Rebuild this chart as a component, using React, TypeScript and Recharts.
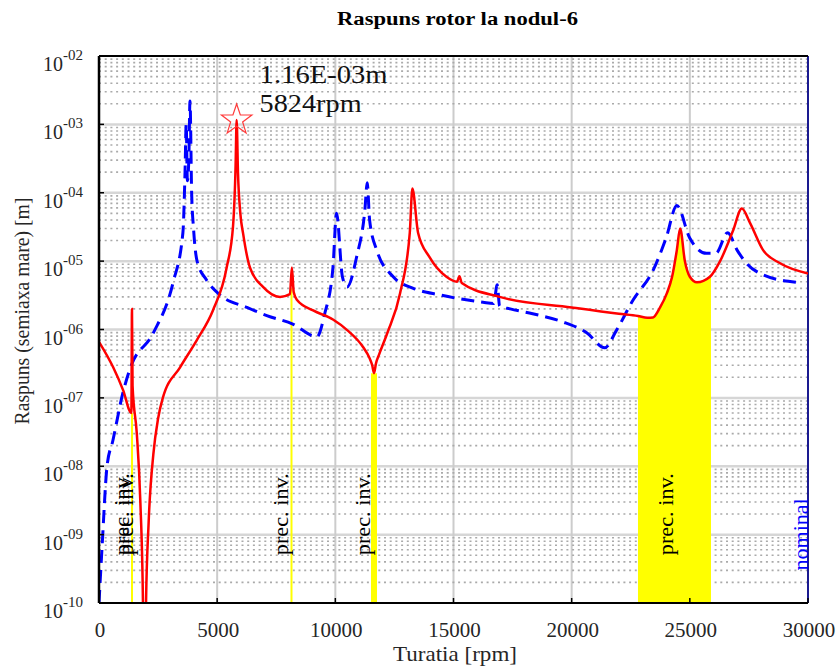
import React from 'react';
import { Area, ComposedChart, Line, ReferenceLine, Scatter, XAxis, YAxis } from 'recharts';

const SERIF = '"Liberation Serif", "Times New Roman", serif';

// axes
const rpmTicks = [0, 5000, 10000, 15000, 20000, 25000, 30000];
const decadeTicks = [1e-10, 1e-9, 1e-8, 1e-7, 1e-6, 1e-5, 1e-4, 1e-3, 1e-2];

// raspuns (solid red)
const redRpm = [
  0, 600, 1020, 1370, 1395, 1420, 1600, 1750, 1860, 1920, 1990, 2100, 2300, 2500, 2700, 3430, 4140, 4820,
  5400, 5670, 5780, 5824, 5880, 5980, 6100, 6390, 6940, 7660, 8080, 8160, 8240, 8380, 9060, 9900, 10500,
  11180, 11450, 11560, 11636, 11720, 11850, 12200, 12740, 13150, 13260, 13500, 13980, 14700, 15150, 15250,
  15350, 16950, 20000, 22000, 22806, 23200, 23440, 23740, 24030, 24250, 24450, 24590, 24790, 25000, 25300,
  25850, 26280, 26830, 27200, 27550, 28100, 28820, 30000,
];
const redAmp = [
  6.6e-7, 2.8e-7, 1.3e-7, 6e-8, 2e-6, 1.5e-7, 3e-8, 3e-9, 1e-10, 1e-12, 1e-10, 1.5e-9, 1.5e-8, 5e-8, 1e-7,
  2.8e-7, 7e-7, 1.9e-6, 8e-6, 3.2e-5, 2.5e-4, 1.16e-3, 2e-4, 5e-5, 2.5e-5, 8e-6, 4.2e-6, 3e-6, 3.3e-6, 8.1e-6,
  3.5e-6, 2.7e-6, 1.9e-6, 1.4e-6, 9.8e-7, 5.5e-7, 3.8e-7, 3e-7, 2.3e-7, 3.2e-7, 4.3e-7, 8.9e-7, 3.4e-6,
  2.6e-5, 1.15e-4, 2.6e-5, 1.15e-5, 5.9e-6, 5e-6, 6e-6, 4.8e-6, 3e-6, 2.1e-6, 1.7e-6, 1.58e-6, 1.48e-6,
  1.5e-6, 2.1e-6, 3.4e-6, 5.9e-6, 1.45e-5, 3e-5, 1e-5, 5.9e-6, 4.9e-6, 5.9e-6, 1e-5, 2.8e-5, 5.9e-5, 3.6e-5,
  1.45e-5, 9.3e-6, 6.6e-6,
];

// raspuns (dashed blue)
const blueRpm = [
  0, 130, 340, 590, 1015, 1300, 2300, 3130, 3550, 3640, 3690, 3740, 3800, 3850, 3920, 4000, 4150, 4550, 5120,
  6260, 7100, 8200, 9220, 9550, 9900, 10050, 10300, 10500, 10900, 11250, 11350, 11450, 11750, 12450, 13300,
  14430, 16250, 16700, 16850, 16950, 17400, 18350, 19600, 20650, 21400, 21900, 22600, 23450, 24000, 24450,
  24990, 25700, 26100, 26600, 27000, 27400, 28100, 29500,
];
const blueAmp = [
  1e-10, 6.6e-10, 1e-8, 2.4e-8, 1.2e-7, 2.6e-7, 8.9e-7, 4.8e-6, 2.6e-5, 2e-4, 1e-3, 1.5e-4, 3e-4, 2.2e-3, 1e-4,
  3e-5, 1e-5, 5.3e-6, 3.2e-6, 2.1e-6, 1.6e-6, 1.2e-6, 7.8e-7, 1.7e-6, 8.1e-6, 5e-5, 5.9e-6, 4.2e-6, 1.15e-5,
  5.6e-5, 1.4e-4, 4e-5, 1.45e-5, 5.9e-6, 4e-6, 3.2e-6, 2.5e-6, 2.4e-6, 4.5e-6, 2.2e-6, 2e-6, 1.7e-6, 1.3e-6,
  8.9e-7, 5.4e-7, 9.8e-7, 2.7e-6, 7.4e-6, 2.2e-5, 6.5e-5, 2.2e-5, 1.3e-5, 1.3e-5, 2.6e-5, 1.45e-5, 9.3e-6,
  6.3e-6, 4.9e-6,
];

// prec. inv. band under the red curve
const bandRpm = [22806, 23200, 23440, 23740, 24030, 24250, 24450, 24590, 24790, 25000, 25300, 25850, 25895];
const bandAmp = [1.58e-6, 1.48e-6, 1.5e-6, 2.1e-6, 3.4e-6, 5.9e-6, 1.45e-5, 3e-5, 1e-5, 5.9e-6, 4.9e-6, 5.9e-6, 5.95e-6];

// narrow prec. inv. intervals
const precLineRpm = [1396, 8145, 11636];
const precLineTop = [6e-8, 4e-6, 2.3e-7];
const PREC_LINE_WIDTHS = [2, 2, 6];

// text annotations (data coordinates)
const precLabelRpm = [1270, 1440, 7997, 11480, 24290];
const precLabelAmp = [5e-10, 5e-10, 5e-10, 5e-10, 5e-10];
const nominalRpm = [30000];
const nominalAmp = [3e-10];
const peakRpm = [5824];
const peakAmp = [1.16e-3];
const peakText = ['1.16E-03m', '5824rpm'];

const zip = (xs: number[], ys: number[]) => xs.map((x, i) => ({ x, y: ys[i] }));
const redData = zip(redRpm, redAmp);
const blueData = zip(blueRpm, blueAmp);
const bandData = zip(bandRpm, bandAmp);
const precLabelData = zip(precLabelRpm, precLabelAmp);
const nominalData = zip(nominalRpm, nominalAmp);
const peakData = zip(peakRpm, peakAmp);

const minorGrid: number[] = [];
for (let e = -10; e < -2; e++) for (let k = 2; k <= 9; k++) minorGrid.push(k * Math.pow(10, e));
const majorY = decadeTicks.slice(1, -1);
const majorX = rpmTicks.slice(1, -1);

function YTick({ y, payload }: any) {
  const exp = Math.round(Math.log10(payload.value));
  const sup = (exp < 0 ? '-' : '') + String(Math.abs(exp)).padStart(2, '0');
  return (
    <text x={43} y={y + 15} fontFamily={SERIF} fontSize={20} fill="#262626">
      10
      <tspan dy={-11} fontSize={15}>{sup}</tspan>
    </text>
  );
}

function XTick({ x, payload }: any) {
  return (
    <text x={x + 1} y={637} textAnchor="middle" fontFamily={SERIF} fontSize={21} fill="#262626">
      {payload.value}
    </text>
  );
}

function ChartTitle() {
  return (
    <text x={457.5} y={25} textAnchor="middle" fontFamily={SERIF} fontWeight="bold" fontSize={18} fill="#000"
      textLength={241} lengthAdjust="spacingAndGlyphs">
      Raspuns rotor la nodul-6
    </text>
  );
}

function XTitle() {
  return (
    <text x={455} y={661} textAnchor="middle" fontFamily={SERIF} fontSize={22} fill="#262626"
      textLength={124} lengthAdjust="spacingAndGlyphs">
      Turatia [rpm]
    </text>
  );
}

function YTitle() {
  return (
    <text x={29} y={311} transform="rotate(-90 29 311)" textAnchor="middle" fontFamily={SERIF} fontSize={21}
      fill="#262626" textLength={227} lengthAdjust="spacingAndGlyphs">
      Raspuns (semiaxa mare) [m]
    </text>
  );
}

function PrecLabel({ cx, cy }: any) {
  return (
    <text x={cx} y={cy} transform={`rotate(-90 ${cx} ${cy})`} fontFamily={SERIF} fontSize={21} fill="#000"
      textLength={82} lengthAdjust="spacingAndGlyphs">
      prec. inv.
    </text>
  );
}

function NominalLabel({ cx, cy }: any) {
  return (
    <text x={cx} y={cy} transform={`rotate(-90 ${cx} ${cy})`} fontFamily={SERIF} fontSize={21} fill="#0000ff"
      textLength={72} lengthAdjust="spacingAndGlyphs">
      nominal
    </text>
  );
}

function PeakMarker({ cx, cy }: any) {
  const pts: string[] = [];
  for (let i = 0; i < 10; i++) {
    const r = i % 2 === 0 ? 16 : 6.3;
    const a = -Math.PI / 2 + (i * Math.PI) / 5;
    pts.push(`${cx + r * Math.cos(a)},${cy + r * Math.sin(a)}`);
  }
  return (
    <g>
      <polygon points={pts.join(' ')} fill="none" stroke="#ff3b3b" strokeWidth={1.2} />
      <text x={cx + 23} y={cy - 37} fontFamily={SERIF} fontSize={25} fill="#111" textLength={128}
        lengthAdjust="spacingAndGlyphs">{peakText[0]}</text>
      <text x={cx + 23} y={cy - 8} fontFamily={SERIF} fontSize={25} fill="#111" textLength={102}
        lengthAdjust="spacingAndGlyphs">{peakText[1]}</text>
    </g>
  );
}

export default function App() {
  return (
    <div style={{ position: 'absolute', left: 0, top: 0, width: 838, height: 667, background: '#fff' }}>
      <ComposedChart width={838} height={667} margin={{ top: 26, right: 0, bottom: 0, left: 0 }}>
        <XAxis dataKey="x" type="number" domain={[0, 30000]} ticks={rpmTicks} allowDataOverflow height={64}
          tickSize={-5} tick={<XTick />} tickLine={{ stroke: '#000', strokeWidth: 1.5 }}
          axisLine={{ stroke: '#000', strokeWidth: 2 }} label={<XTitle />} />
        <XAxis xAxisId="top" orientation="top" dataKey="x" type="number" domain={[0, 30000]} ticks={rpmTicks}
          allowDataOverflow height={30} tickSize={-5} tick={false} tickLine={{ stroke: '#000', strokeWidth: 1.5 }}
          axisLine={{ stroke: '#000', strokeWidth: 2 }} label={<ChartTitle />} />
        <YAxis type="number" scale="log" domain={[1e-10, 1e-2]} ticks={decadeTicks} allowDataOverflow width={99}
          tickSize={-5} tick={<YTick />} tickLine={{ stroke: '#000', strokeWidth: 1.5 }}
          axisLine={{ stroke: '#000', strokeWidth: 2.5 }} label={<YTitle />} />
        <YAxis yAxisId="right" orientation="right" type="number" scale="log" domain={[1e-10, 1e-2]}
          ticks={decadeTicks} allowDataOverflow width={30} tickSize={-5} tick={false}
          tickLine={{ stroke: '#000', strokeWidth: 1.5 }} axisLine={false} />

        {majorY.map((v) => (
          <ReferenceLine key={`my${v}`} y={v} stroke="#d6d6d6" strokeWidth={2.5} zIndex={-100} />
        ))}
        {majorX.map((v) => (
          <ReferenceLine key={`mx${v}`} x={v} stroke="#cccccc" strokeWidth={2} zIndex={-100} />
        ))}
        {minorGrid.map((v) => (
          <ReferenceLine key={`mn${v}`} y={v} stroke="#aaaaaa" strokeWidth={1.6} strokeDasharray="2 3.7"
            zIndex={-100} />
        ))}

        <Area data={bandData} dataKey="y" type="monotoneX" stroke="none" fill="#ffff00" fillOpacity={1}
          baseValue={1e-10} isAnimationActive={false} />
        {precLineRpm.map((r, i) => (
          <ReferenceLine key={`pl${r}`} segment={[{ x: r, y: 1e-10 }, { x: r, y: precLineTop[i] }]}
            stroke="#ffff00" strokeWidth={PREC_LINE_WIDTHS[i]} />
        ))}
        <ReferenceLine x={30000} stroke="#1a1a90" strokeWidth={2} ifOverflow="visible" />

        <Line data={blueData} dataKey="y" type="monotoneX" stroke="#0000ff" strokeWidth={3} strokeDasharray="13 7"
          dot={false} activeDot={false} isAnimationActive={false} />
        <Line data={redData} dataKey="y" type="monotoneX" stroke="#ff0000" strokeWidth={2.5} dot={false}
          activeDot={false} isAnimationActive={false} />

        <Scatter data={precLabelData} dataKey="y" shape={<PrecLabel />} isAnimationActive={false} />
        <Scatter data={nominalData} dataKey="y" shape={<NominalLabel />} isAnimationActive={false} />
        <Scatter data={peakData} dataKey="y" shape={<PeakMarker />} isAnimationActive={false} />
      </ComposedChart>
    </div>
  );
}
